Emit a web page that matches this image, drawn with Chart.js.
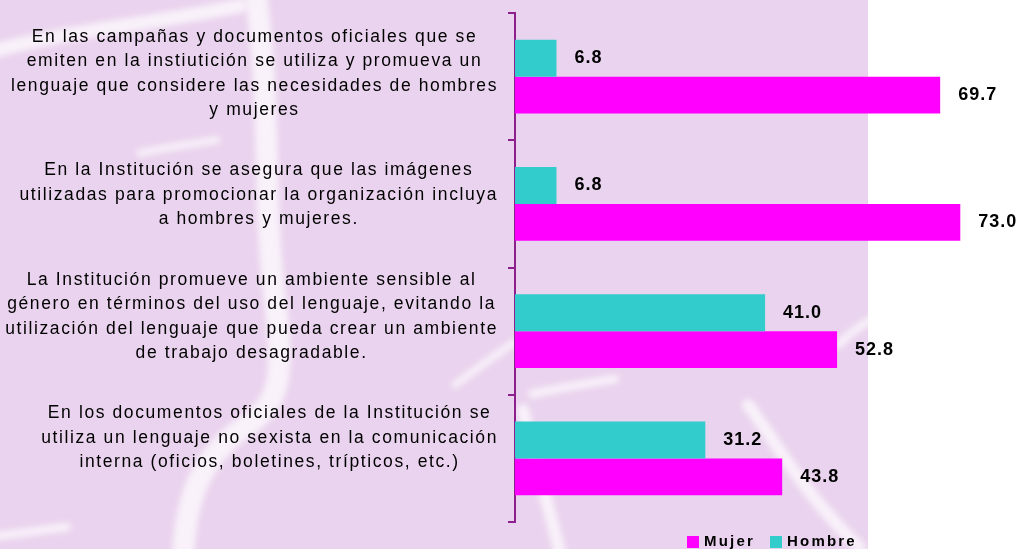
<!DOCTYPE html>
<html>
<head>
<meta charset="utf-8">
<script src="https://cdn.jsdelivr.net/npm/chart.js@4.4.1/dist/chart.umd.min.js"></script>
<style>
  html, body { margin: 0; padding: 0; background: #ffffff; }
  #wrap { width: 1018px; height: 549px; }
</style>
</head>
<body>
<div id="wrap"><canvas id="chart" width="1018" height="549"></canvas></div>
<script>
// categories (one array of lines per bar group)
var categories = [
  ["En las campañas y documentos oficiales que se",
   "emiten en la instiutición se utiliza y promueva un",
   "lenguaje que considere las necesidades de hombres",
   "y mujeres"],
  ["En la Institución se asegura que las imágenes",
   "utilizadas para promocionar la organización incluya",
   "a hombres y mujeres."],
  ["La Institución promueve un ambiente sensible al",
   "género en términos del uso del lenguaje, evitando la",
   "utilización del lenguaje que pueda crear un ambiente",
   "de trabajo desagradable."],
  ["En los documentos oficiales de la Institución se",
   "utiliza un lenguaje no sexista en la comunicación",
   "interna (oficios, boletines, trípticos, etc.)"]
];
var hombre = [6.8, 6.8, 41.0, 31.2];
var mujer = [69.7, 73.0, 52.8, 43.8];

var axisColor = "#8E208D";
var font = "'Liberation Sans', Arial, sans-serif";

// background: lavender panel with soft white swooshes
var backgroundPlugin = {
  id: "background",
  beforeDraw: function(chart) {
    var ctx = chart.ctx;
    ctx.save();
    ctx.fillStyle = "#ffffff";
    ctx.fillRect(0, 0, chart.width, chart.height);
    ctx.fillStyle = "#EAD3EE";
    ctx.fillRect(0, 0, 868, chart.height);

    ctx.beginPath();
    ctx.rect(0, 0, 868, chart.height);
    ctx.clip();
    ctx.filter = "blur(3px)";
    ctx.strokeStyle = "rgba(255,255,255,0.7)";
    ctx.lineCap = "round";

    function swoosh(w, pts) {
      ctx.lineWidth = w;
      ctx.beginPath();
      ctx.moveTo(pts[0], pts[1]);
      for (var i = 2; i < pts.length; i += 6) {
        ctx.bezierCurveTo(pts[i], pts[i + 1], pts[i + 2], pts[i + 3], pts[i + 4], pts[i + 5]);
      }
      ctx.stroke();
    }
    // main S curve
    swoosh(22, [255, -10, 272, 100, 262, 200, 275, 300, 285, 380, 280, 405, 240, 430, 200, 460, 185, 500, 183, 560]);
    // upper left crescent
    swoosh(14, [-10, 52, 60, 32, 150, 24, 240, 6]);
    swoosh(7, [140, 153, 165, 148, 190, 144, 217, 140]);
    // small streaks
    swoosh(7, [455, 385, 475, 370, 495, 355, 515, 342]);
    swoosh(8, [-10, 537, 20, 533, 45, 530, 67, 527]);
    // right side arcs
    swoosh(12, [523, 410, 535, 460, 548, 505, 562, 560]);
    swoosh(8, [532, 394, 560, 388, 590, 383, 615, 379]);
    swoosh(12, [748, 405, 775, 440, 800, 490, 860, 548]);
    swoosh(8, [838, 345, 848, 335, 860, 325, 875, 318]);
    ctx.restore();
  }
};

// category labels, centred lines, block right-aligned to the axis
var categoryLabelPlugin = {
  id: "categoryLabels",
  afterDraw: function(chart) {
    var ctx = chart.ctx;
    var area = chart.chartArea;
    var labels = chart.data.labels;
    var lineHeight = 24.4;
    ctx.save();
    ctx.font = "17.5px " + font;
    ctx.letterSpacing = "1.6px";
    ctx.fillStyle = "#000000";
    ctx.textAlign = "center";
    ctx.textBaseline = "middle";
    for (var i = 0; i < labels.length; i++) {
      var lines = labels[i];
      var maxW = 0;
      for (var j = 0; j < lines.length; j++) {
        maxW = Math.max(maxW, ctx.measureText(lines[j]).width);
      }
      var cx = area.left - 17 - maxW / 2;
      var cy = area.top + 60.5 + i * 121.5;
      var y0 = cy - (lines.length - 1) * lineHeight / 2;
      for (var k = 0; k < lines.length; k++) {
        ctx.fillText(lines[k], cx, y0 + k * lineHeight);
      }
    }
    ctx.restore();
  }
};

// bold value labels at the end of every bar
var valueLabelPlugin = {
  id: "valueLabels",
  afterDatasetsDraw: function(chart) {
    var ctx = chart.ctx;
    ctx.save();
    ctx.font = "bold 18px " + font;
    ctx.letterSpacing = "1px";
    ctx.fillStyle = "#000000";
    ctx.textAlign = "left";
    ctx.textBaseline = "middle";
    chart.data.datasets.forEach(function(ds, d) {
      chart.getDatasetMeta(d).data.forEach(function(bar, i) {
        ctx.fillText(ds.data[i].toFixed(1), bar.x + 18, bar.y);
      });
    });
    ctx.restore();
  }
};

// legend at bottom right: Mujer, Hombre
var legendPlugin = {
  id: "customLegend",
  afterDraw: function(chart) {
    var ctx = chart.ctx;
    var items = chart.data.datasets.slice().reverse();
    var x = 687;
    var y = 542;
    ctx.save();
    ctx.font = "bold 15px " + font;
    ctx.letterSpacing = "2.2px";
    ctx.textAlign = "left";
    ctx.textBaseline = "middle";
    items.forEach(function(ds) {
      ctx.fillStyle = ds.backgroundColor;
      ctx.fillRect(x, y - 6, 12, 12);
      ctx.fillStyle = "#000000";
      ctx.fillText(ds.label, x + 17, y);
      x += 17 + ctx.measureText(ds.label).width + 15;
    });
    ctx.restore();
  }
};

var ctx = document.getElementById("chart");
var chart = new Chart(ctx, {
  type: "bar",
  data: {
    labels: categories,
    datasets: [
      { label: "Hombre", data: hombre, backgroundColor: "#33CCCC", borderWidth: 0 },
      { label: "Mujer", data: mujer, backgroundColor: "#FF00FF", borderWidth: 0 }
    ]
  },
  options: {
    indexAxis: "y",
    responsive: false,
    animation: false,
    categoryPercentage: 0.58,
    barPercentage: 1.0,
    layout: { padding: { top: 13, bottom: 27, right: 15, left: 0 } },
    plugins: {
      legend: { display: false },
      tooltip: { enabled: false }
    },
    scales: {
      x: { display: false, min: 0, max: 80 },
      y: {
        ticks: { display: false },
        grid: {
          drawOnChartArea: false,
          color: axisColor,
          lineWidth: 2,
          tickLength: 7
        },
        border: { color: axisColor, width: 2 },
        afterFit: function(scale) {
          scale.width = 515;
        }
      }
    }
  },
  plugins: [backgroundPlugin, categoryLabelPlugin, valueLabelPlugin, legendPlugin]
});
</script>
</body>
</html>
